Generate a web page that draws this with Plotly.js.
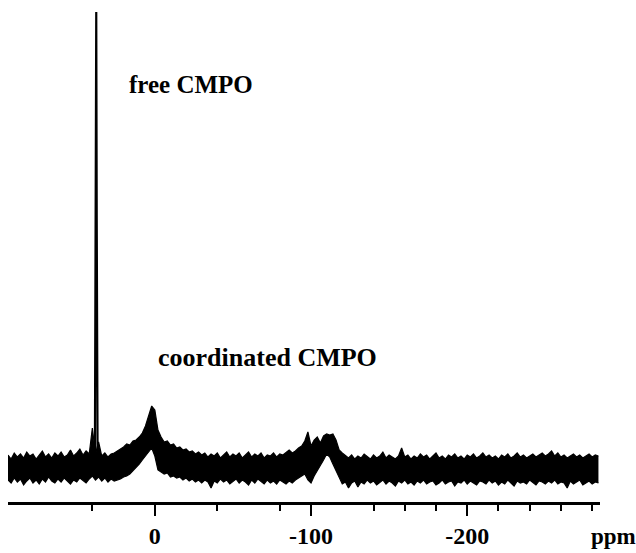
<!DOCTYPE html>
<html>
<head>
<meta charset="utf-8">
<script src="https://cdn.plot.ly/plotly-3.0.1.min.js"></script>
<style>html,body{margin:0;padding:0;background:#fff}#chart{width:636px;height:553px}</style>
</head>
<body>
<div id="chart"></div>
<script>
// Chemical shift grid (ppm), every 2 ppm from 94 to -284
var ppm = [94,92,90,88,86,84,82,80,78,76, 74,72,70,68,66,64,62,60,58,56, 54,52,50,48,46,44,42,40,38,36,
  34,32,30,28,26,24,22,20,18,16, 14,12,10,8,6,4,2,0,-2,-4, -6,-8,-10,-12,-14,-16,-18,-20,-22,-24,
  -26,-28,-30,-32,-34,-36,-38,-40,-42,-44, -46,-48,-50,-52,-54,-56,-58,-60,-62,-64, -66,-68,-70,-72,-74,-76,-78,-80,-82,-84,
  -86,-88,-90,-92,-94,-96,-98,-100,-102,-104, -106,-108,-110,-112,-114,-116,-118,-120,-122,-124, -126,-128,-130,-132,-134,-136,-138,-140,-142,-144,
  -146,-148,-150,-152,-154,-156,-158,-160,-162,-164, -166,-168,-170,-172,-174,-176,-178,-180,-182,-184, -186,-188,-190,-192,-194,-196,-198,-200,-202,-204,
  -206,-208,-210,-212,-214,-216,-218,-220,-222,-224, -226,-228,-230,-232,-234,-236,-238,-240,-242,-244, -246,-248,-250,-252,-254,-256,-258,-260,-262,-264,
  -266,-268,-270,-272,-274,-276,-278,-280,-282,-284];
// Upper edge of the noisy trace (relative intensity)
var upperEnv = [13,9,15,11,14,10,16,12,14,9, 13,17,11,14,10,15,12,16,11,13, 18,12,15,19,13,17,14,40,14,26,
  12,15,11,14,15,17,19,21,24,23, 27,28,31,35,42,52,62,58,38,31, 26,27,23,24,20,21,18,19,16,17,
  14,16,13,15,11,14,12,15,10,13, 16,11,14,12,15,10,13,16,11,14, 12,15,10,13,12,15,11,14,13,16,
  18,15,17,20,22,27,36,22,28,31, 25,32,34,33,34,28,18,15,12,10, 13,9,12,10,14,11,9,13,10,12,
  16,10,13,11,9,12,20,11,13,9, 12,10,14,11,13,9,12,15,10,12, 9,13,11,14,10,12,9,13,11,14,
  10,12,15,11,13,10,12,9,13,11, 14,10,12,15,11,13,10,12,14,11, 13,15,12,14,17,12,15,11,13,10,
  12,14,11,13,10,12,14,11,13,12];
// Lower edge of the noisy trace
var lowerEnv = [-12,-15,-10,-14,-11,-17,-13,-10,-15,-12, -16,-11,-14,-9,-13,-15,-11,-14,-10,-13, -16,-12,-14,-10,-13,-15,-11,-8,-12,-9,
  -13,-10,-14,-11,-13,-12,-11,-9,-8,-6, -3,0,4,8,12,16,20,12,-2,-4, -6,-5,-9,-8,-10,-9,-12,-10,-13,-11,
  -14,-12,-15,-12,-14,-20,-13,-15,-11,-14, -12,-16,-13,-11,-15,-12,-14,-17,-12,-15, -11,-14,-16,-12,-15,-13,-16,-12,-14,-16,
  -13,-15,-12,-10,-8,-6,-12,-15,-8,-3, 2,8,14,11,4,-3,-10,-16,-14,-20, -15,-13,-19,-14,-16,-12,-15,-13,-17,-14,
  -12,-16,-13,-15,-18,-13,-15,-12,-16,-14, -17,-13,-15,-12,-16,-14,-13,-17,-15,-12, -16,-14,-13,-18,-14,-15,-12,-16,-13,-15,
  -17,-13,-14,-16,-12,-15,-13,-17,-14,-16, -12,-15,-18,-13,-15,-14,-16,-12,-15,-17, -13,-14,-16,-13,-15,-12,-16,-14,-15,-20,
  -13,-16,-14,-12,-17,-15,-13,-16,-14,-15];
// Sharp free-CMPO resonance
var freePpm = [38.4, 37.8, 37.5, 37.2, 36.6];
var freeInt = [-4, 250, 456, 250, -8];
// Axis ticks
var majorTicks = [0, -100, -200];
var majorLabels = ['0', '-100', '-200'];
var minorTicks = [40, -40, -80, -140, -160, -180, -220, -240, -260, -280];

var serif = 'Liberation Serif, Times New Roman, serif';
var traces = [
  {x: ppm, y: lowerEnv, type: 'scatter', mode: 'lines', line: {color: '#000', width: 1.2}, hoverinfo: 'none'},
  {x: ppm, y: upperEnv, type: 'scatter', mode: 'lines', fill: 'tonexty', fillcolor: '#000', line: {color: '#000', width: 1.2}, hoverinfo: 'none'},
  {x: freePpm, y: freeInt, type: 'scatter', mode: 'lines', line: {color: '#000', width: 2.2}, hoverinfo: 'none'}
];
var layout = {
  width: 636, height: 553,
  margin: {l: 8, r: 36, t: 10, b: 51},
  paper_bgcolor: '#fff', plot_bgcolor: '#fff',
  showlegend: false,
  xaxis: {
    range: [94, -285], showgrid: false, zeroline: false,
    showline: true, linecolor: '#000', linewidth: 2.5,
    ticks: 'outside', tickmode: 'array', tickvals: majorTicks, ticktext: majorLabels,
    ticklen: 11, tickwidth: 2, tickcolor: '#000',
    tickfont: {family: serif, size: 24, color: '#000', weight: 'bold'},
    minor: {tickmode: 'array', tickvals: minorTicks, ticks: 'outside', ticklen: 6, tickwidth: 2, tickcolor: '#000', showgrid: false}
  },
  yaxis: {range: [-34, 458], visible: false, showgrid: false, zeroline: false},
  annotations: [
    {text: 'free CMPO', xref: 'paper', yref: 'paper', x: 0.309, y: 0.849, xanchor: 'center', yanchor: 'middle', showarrow: false,
     font: {family: serif, size: 25, color: '#000', weight: 'bold'}},
    {text: 'coordinated CMPO', xref: 'paper', yref: 'paper', x: 0.4375, y: 0.293, xanchor: 'center', yanchor: 'middle', showarrow: false,
     font: {family: serif, size: 26, color: '#000', weight: 'bold'}},
    {text: 'ppm', xref: 'paper', yref: 'paper', x: 1.0236, y: -0.071, xanchor: 'center', yanchor: 'middle', showarrow: false,
     font: {family: serif, size: 23, color: '#000', weight: 'bold'}}
  ]
};
Plotly.newPlot('chart', traces, layout, {staticPlot: true, displayModeBar: false});
</script>
</body>
</html>
